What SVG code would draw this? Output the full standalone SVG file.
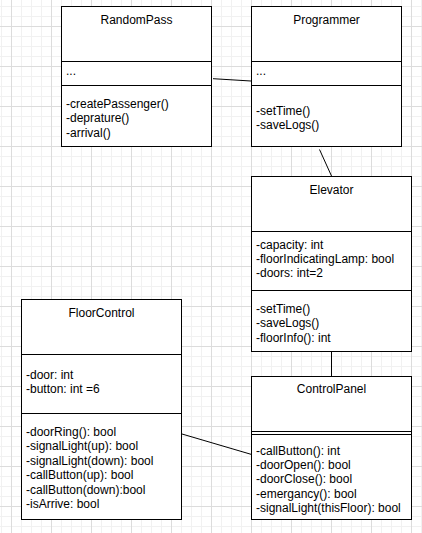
<svg xmlns="http://www.w3.org/2000/svg" width="422" height="533" viewBox="0 0 422 533">
<defs>
<pattern id="grid" patternUnits="userSpaceOnUse" x="11" y="26" width="40" height="40">
<rect x="0" y="0" width="40" height="40" fill="#ffffff"/>
<rect x="10" y="0" width="1" height="40" fill="#f1f1f1"/>
<rect x="20" y="0" width="1" height="40" fill="#f1f1f1"/>
<rect x="30" y="0" width="1" height="40" fill="#f1f1f1"/>
<rect x="0" y="10" width="40" height="1" fill="#f1f1f1"/>
<rect x="0" y="20" width="40" height="1" fill="#f1f1f1"/>
<rect x="0" y="30" width="40" height="1" fill="#f1f1f1"/>
<rect x="0" y="0" width="1" height="40" fill="#dcdcdc"/>
<rect x="0" y="0" width="40" height="1" fill="#dcdcdc"/>
</pattern>
<style>
.box{fill:#ffffff;stroke:#000000;stroke-width:1}
.sep{stroke:#000000;stroke-width:1;fill:none}
.t{font-family:"Liberation Sans",Arial,sans-serif;font-size:12px;fill:#000000}
.c{text-anchor:middle}
.edge{stroke:#000000;stroke-width:1;fill:none}
</style>
</defs>
<rect width="422" height="533" fill="url(#grid)"/>
<g id="connectors">
<line class="edge" x1="213" y1="78.7" x2="251" y2="81"/>
<line class="edge" x1="319.5" y1="149.5" x2="331.5" y2="176"/>
<line class="edge" x1="331.5" y1="351.5" x2="331.5" y2="376.5"/>
<line class="edge" x1="182" y1="434" x2="251" y2="454.3"/>
</g>
<g id="RandomPass">
<rect class="box" x="61.5" y="6.5" width="150" height="140"/>
<line class="sep" x1="61.5" y1="61.5" x2="211.5" y2="61.5"/>
<line class="sep" x1="61.5" y1="85.5" x2="211.5" y2="85.5"/>
<text class="t c" x="136.5" y="24">RandomPass</text>
<text class="t" x="66" y="75">...</text>
<text class="t" x="66" y="108">-createPassenger()</text>
<text class="t" x="66" y="122">-deprature()</text>
<text class="t" x="66" y="136.5">-arrival()</text>
</g>
<g id="Programmer">
<rect class="box" x="251.5" y="6.5" width="150" height="140"/>
<line class="sep" x1="251.5" y1="61.5" x2="401.5" y2="61.5"/>
<line class="sep" x1="251.5" y1="85.5" x2="401.5" y2="85.5"/>
<text class="t c" x="326.5" y="24">Programmer</text>
<text class="t" x="256" y="75">...</text>
<text class="t" x="256" y="114.5">-setTime()</text>
<text class="t" x="256" y="129">-saveLogs()</text>
</g>
<g id="Elevator">
<rect class="box" x="251.5" y="176.5" width="160" height="175"/>
<line class="sep" x1="251.5" y1="231.5" x2="411.5" y2="231.5"/>
<line class="sep" x1="251.5" y1="290.5" x2="411.5" y2="290.5"/>
<text class="t c" x="331.5" y="193.5">Elevator</text>
<text class="t" x="256" y="248.5">-capacity: int</text>
<text class="t" x="256" y="262.5">-floorIndicatingLamp: bool</text>
<text class="t" x="256" y="277">-doors: int=2</text>
<text class="t" x="256" y="312.5">-setTime()</text>
<text class="t" x="256" y="326.5">-saveLogs()</text>
<text class="t" x="256" y="341.5">-floorInfo(): int</text>
</g>
<g id="FloorControl">
<rect class="box" x="21.5" y="299.5" width="160" height="220"/>
<line class="sep" x1="21.5" y1="354.5" x2="181.5" y2="354.5"/>
<line class="sep" x1="21.5" y1="413.5" x2="181.5" y2="413.5"/>
<text class="t c" x="101.5" y="316.5">FloorControl</text>
<text class="t" x="26" y="379">-door: int</text>
<text class="t" x="26" y="393">-button: int =6</text>
<text class="t" x="26" y="436">-doorRing(): bool</text>
<text class="t" x="26" y="450">-signalLight(up): bool</text>
<text class="t" x="26" y="464.5">-signalLight(down): bool</text>
<text class="t" x="26" y="479">-callButton(up): bool</text>
<text class="t" x="26" y="493.5">-callButton(down):bool</text>
<text class="t" x="26" y="507.5">-isArrive: bool</text>
</g>
<g id="ControlPanel">
<rect class="box" x="251.5" y="376.5" width="160" height="143"/>
<line class="sep" x1="251.5" y1="431.5" x2="411.5" y2="431.5"/>
<line class="sep" x1="251.5" y1="434.5" x2="411.5" y2="434.5"/>
<text class="t c" x="331.5" y="393">ControlPanel</text>
<text class="t" x="256" y="455">-callButton(): int</text>
<text class="t" x="256" y="469">-doorOpen(): bool</text>
<text class="t" x="256" y="483">-doorClose(): bool</text>
<text class="t" x="256" y="497.5">-emergancy(): bool</text>
<text class="t" x="256" y="511.5">-signalLight(thisFloor): bool</text>
</g>
</svg>
